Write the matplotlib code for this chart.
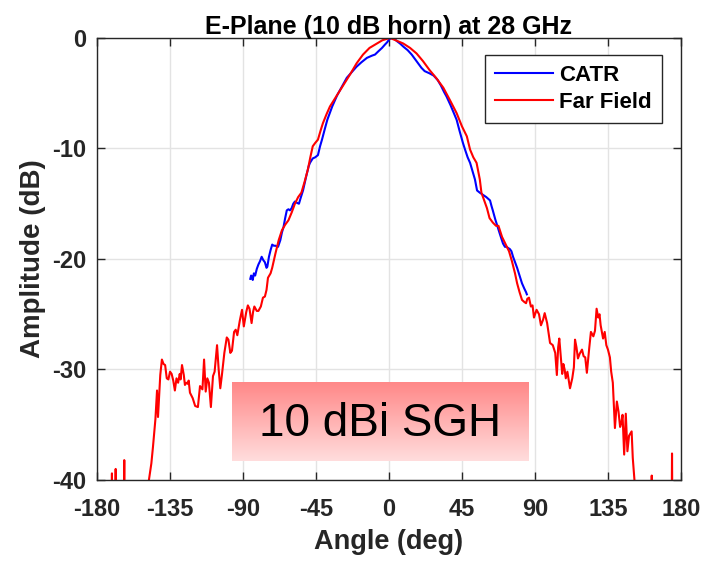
import numpy as np
import matplotlib
matplotlib.use("Agg")
import matplotlib.pyplot as plt

plt.rcParams['font.family'] = ['Liberation Sans', 'DejaVu Sans']
plt.rcParams['axes.unicode_minus'] = False

# Far Field (red) : angle (deg), amplitude (dB)
ff_angle = [-180, -171.5, -170.8, -170.3, -169, -168.5, -168, -164, -163.2, -162.7,
            -149.5, -148.5, -146.5, -145.5, -144, -143, -142.4, -141, -140, -139,
            -138, -137, -136, -135, -134, -133, -132, -131, -130, -129,
            -128.5, -127.6, -126.5, -125.8, -125, -124, -123.5, -122.7, -121, -119.5,
            -117.8, -116.5, -115, -114, -113, -112, -111, -109.8, -108.5, -107.5,
            -106, -105, -104, -103, -101.5, -100, -99, -97.8, -96.8, -95.5,
            -94.5, -93.5, -92, -90.6, -89.5, -88, -87, -86, -84.7, -83.8,
            -83, -81.5, -80.5, -79, -77.7, -76.5, -75.5, -74.6, -73, -72,
            -70, -68, -66, -64, -62, -60, -58, -56, -54, -52,
            -50, -48.5, -47, -45.5, -43.8, -42, -40.7, -38.5, -36.4, -33,
            -30, -27, -24, -20, -16, -12, -7.4, -4, 0.6, 4,
            8.8, 13, 17, 21, 25, 29, 33.5, 37.5, 41.7, 45,
            48, 50, 52, 54, 56, 57, 60.4, 62, 64, 66,
            67.5, 69.7, 72.7, 74, 75.8, 77.7, 79, 80.5, 82, 83.5,
            84.5, 85.3, 86.3, 87.5, 88.5, 89.4, 91, 92.5, 93.7, 95,
            96, 97.5, 99.3, 101, 102.5, 103.5, 104.3, 105, 106, 106.8,
            107.5, 108.3, 109, 110, 111.6, 113, 114, 114.7, 115.6, 116.5,
            117.5, 119, 120, 121, 122, 123.5, 124.5, 126, 127, 128,
            129, 129.8, 130.5, 132, 133, 134, 135, 136.2, 137, 138,
            139.3, 140.5, 141.5, 142.5, 143.3, 144, 145, 146, 147, 148,
            149.6, 150.3, 151.6, 152, 161.5, 162, 162.5, 174, 174.5, 175,
            180]
ff_db = [-50, -50, -39.4, -50, -50, -39.0, -50, -50, -38.2, -50,
         -50, -40.5, -38.5, -37.0, -34.5, -31.9, -34.3, -30.5, -29.1, -29.5,
         -29.6, -30.8, -30.9, -30.2, -30.4, -31.0, -31.9, -30.8, -31.2, -30.4,
         -30.9, -29.6, -30.5, -31.4, -31.2, -31.3, -31.0, -32.1, -32.6, -33.3,
         -33.4, -31.5, -31.8, -29.1, -32.0, -30.8, -31.2, -33.4, -30.6, -30.2,
         -27.8, -30.0, -31.7, -30.5, -28.5, -27.1, -27.3, -28.5, -28.3, -26.6,
         -26.4, -26.9, -25.6, -24.6, -26.1, -24.8, -24.2, -24.5, -25.8, -24.8,
         -24.3, -24.7, -24.7, -24.3, -23.5, -23.4, -22.8, -21.7, -21.3, -20.8,
         -19.5, -18.3, -17.4, -16.9, -16.5, -15.8, -15.0, -14.4, -14.0, -13.0,
         -11.9, -10.8, -9.8, -9.5, -9.2, -8.3, -7.7, -6.9, -6.2, -5.4,
         -4.7, -4.0, -3.3, -2.3, -1.5, -0.9, -0.5, -0.2, 0.0, -0.2,
         -0.5, -0.9, -1.4, -2.1, -2.9, -3.6, -4.5, -5.6, -6.8, -8.0,
         -8.9, -10.1, -10.8, -11.3, -12.8, -14.0, -15.4, -16.3, -16.7, -17.0,
         -17.0, -18.0, -18.9, -19.3, -20.2, -21.3, -22.2, -23.0, -23.7, -23.9,
         -24.0, -23.6, -23.5, -24.3, -24.2, -25.3, -24.6, -25.0, -26.0, -25.5,
         -24.9, -25.8, -27.6, -27.8, -28.5, -30.5, -28.0, -27.2, -29.0, -30.4,
         -29.5, -30.0, -30.8, -30.2, -31.7, -30.8, -29.8, -27.3, -28.0, -29.0,
         -28.6, -28.2, -28.8, -28.9, -30.3, -28.0, -26.6, -27.0, -26.5, -24.5,
         -25.3, -25.0, -26.0, -27.2, -26.6, -27.8, -28.2, -28.9, -30.2, -31.2,
         -35.3, -32.9, -33.8, -35.2, -34.8, -34.1, -37.7, -34.0, -37.4, -36.0,
         -35.6, -38.0, -40.5, -50, -50, -39.6, -50, -50, -37.6, -50,
         -50]

# CATR (blue)
catr_angle = [-85.5, -85, -84.5, -84, -83.3, -82.5, -81.5, -80.5, -79.5, -78.5,
              -77.5, -76.5, -75.5, -75, -74, -73, -72, -71, -70, -68.4,
              -67, -66, -65, -64, -63, -62, -61, -60, -59, -58,
              -57, -55.5, -54.5, -53, -51, -49.5, -48.7, -47, -45.5, -43.8,
              -42.5, -41.3, -39.5, -38, -35, -32, -29, -26, -23, -20,
              -17, -13.6, -10.5, -8.6, -6.5, -4.3, -2.5, -1.2, 0.3, 1.8,
              3.5, 5, 6.8, 9, 11.5, 14, 17, 20, 22, 25,
              27.5, 30, 32, 34, 35.5, 38, 40, 41.7, 43.5, 45.6,
              46.9, 48.5, 50, 52, 53, 54.3, 56, 58, 60, 62.3,
              63.2, 64, 65.5, 67, 68.5, 70.3, 71.5, 72.5, 73.4, 74.5,
              75.5, 76.5, 77.5, 79, 80.5, 82, 83.5, 84.5, 85]
catr_db = [-21.8, -21.5, -21.6, -21.9, -21.3, -21.5, -20.9, -20.5, -20.2, -19.8,
           -20.1, -20.3, -20.8, -20.7, -19.8, -19.2, -18.7, -18.8, -18.8, -18.9,
           -18.3, -17.6, -17.1, -16.3, -15.6, -15.5, -15.6, -15.4, -15.0, -14.8,
           -14.9, -15.0, -14.5, -13.8, -12.5, -11.6, -11.3, -10.9, -10.8, -10.6,
           -9.8, -9.2, -8.2, -7.4, -6.2, -5.2, -4.4, -3.6, -3.1, -2.6,
           -2.2, -1.8, -1.6, -1.5, -1.2, -0.9, -0.6, -0.4, -0.1, 0.0,
           -0.1, -0.3, -0.5, -0.8, -1.1, -1.5, -2.1, -2.7, -3.0, -3.2,
           -3.4, -3.8, -4.3, -4.9, -5.3, -6.1, -6.8, -7.4, -8.4, -9.5,
           -10.1, -10.8, -11.3, -12.3, -12.8, -13.8, -14.0, -14.2, -14.4, -14.7,
           -15.2, -15.6, -16.4, -17.1, -17.8, -18.6, -18.9, -18.9, -19.0, -19.1,
           -19.3, -19.8, -20.2, -20.8, -21.5, -22.2, -22.7, -23.0, -23.2]

x_ticks = [-180, -135, -90, -45, 0, 45, 90, 135, 180]
y_ticks = [-40, -30, -20, -10, 0]

fig = plt.figure(figsize=(7.02, 5.61), dpi=100)
ax = fig.add_axes([0.1382, 0.1444, 0.8318, 0.7879])

dark = '#262626'
ax.plot(catr_angle, catr_db, color='#0000FF', lw=1.5, label='CATR', zorder=2)
ax.plot(ff_angle, ff_db, color='#FF0000', lw=1.5, label='Far Field', zorder=2)

ax.set_xlim(-180, 180)
ax.set_ylim(-40, 0)
ax.set_xticks(x_ticks)
ax.set_yticks(y_ticks)
ax.grid(True, color='#E3E3E3', lw=1.0, zorder=0)
ax.set_axisbelow(True)
ax.tick_params(direction='in', length=6, width=1, top=True, right=True,
               labelsize=17, colors=dark)
ax.tick_params(axis='x', pad=13)
ax.tick_params(axis='y', pad=8)
for lab in ax.get_xticklabels() + ax.get_yticklabels():
    lab.set_fontweight('bold')
for s in ax.spines.values():
    s.set_color(dark)
    s.set_linewidth(1.0)

ax.set_title('E-Plane (10 dB horn) at 28 GHz', fontsize=18, fontweight='bold',
             color='black', pad=3)
ax.set_xlabel('Angle (deg)', fontsize=19.5, fontweight='bold', color=dark, labelpad=6)
ax.set_ylabel('Amplitude (dB)', fontsize=20, fontweight='bold', color=dark, labelpad=4)

leg = ax.legend(loc='upper right', bbox_to_anchor=(0.9675, 0.9615), borderaxespad=0,
                fancybox=False, framealpha=1, edgecolor=dark,
                prop={'weight': 'bold', 'size': 16}, handlelength=2.6,
                handletextpad=0.3, borderpad=0.45, labelspacing=0.25)
leg.get_frame().set_linewidth(1.0)

# gradient label box
grad = np.linspace(0, 1, 100).reshape(-1, 1)
top = np.array([255, 136, 136]) / 255
bot = np.array([255, 221, 221]) / 255
img = top[None, None, :] * (1 - grad[:, :, None]) + bot[None, None, :] * grad[:, :, None]
bx0, bx1, by0, by1 = -96.8, 85.7, -38.3, -31.2
ax.imshow(img, extent=[bx0, bx1, by0, by1], aspect='auto', zorder=3, origin='upper',
          interpolation='bilinear')
ax.text((bx0 + bx1) / 2, (by0 + by1) / 2 - 0.2, '10 dBi SGH', fontsize=33,
        ha='center', va='center', color='black', zorder=4)
ax.set_xlim(-180, 180)
ax.set_ylim(-40, 0)

fig.savefig('out.png', dpi=100)
